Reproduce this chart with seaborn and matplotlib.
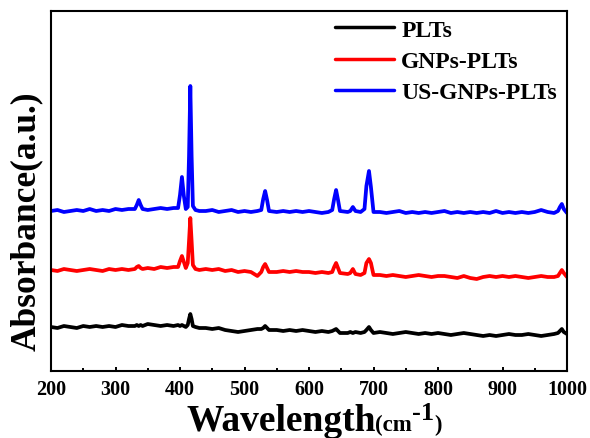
import numpy as np
import pandas as pd
import matplotlib
matplotlib.use("Agg")
import matplotlib.pyplot as plt
from matplotlib.lines import Line2D
import seaborn as sns

# ---------------- data ----------------
wavelength = (
    [200, 210, 220, 230, 240, 250, 260, 270, 280, 290, 300, 310, 320]
    + [330, 333, 336, 339, 342, 350, 360, 370, 380, 390]
    + [397, 400, 403, 406, 409, 412, 414, 416, 418, 420, 424, 430]
    + [440, 450, 460, 470, 480, 490, 500, 510, 520]
    + [526, 529, 532, 535, 538, 550, 560, 570, 580, 590, 600, 610, 620, 630]
    + [636, 639, 642, 645, 648, 660]
    + [664, 668, 672, 680]
    + [686, 689, 693, 696, 700]
    + [710, 720, 730, 740, 750, 760, 770, 780, 790, 800,
       810, 820, 830, 840, 850, 860, 870, 880, 890, 900,
       910, 920, 930, 940, 950, 960, 970]
    + [980, 986, 989, 992, 995, 1000]
)

plts = (
    [44, 43, 45, 44, 43, 45, 44, 45, 44, 45, 44, 46, 45]
    + [45, 46, 45, 46, 45, 47, 46, 45, 46, 45]
    + [46, 45, 46, 45, 44, 46, 52, 57, 52, 45, 44, 43]
    + [43, 42, 43, 41, 40, 39, 40, 41, 42]
    + [42, 43, 45, 43, 41, 41, 40, 41, 40, 41, 40, 39, 40, 39]
    + [40, 41, 42, 40, 38, 38]
    + [39, 38, 39, 38]
    + [39, 41, 44, 41, 38]
    + [39, 38, 37, 38, 39, 38, 37, 38, 37, 38,
       37, 36, 37, 38, 37, 36, 35, 36, 35, 36,
       37, 36, 36, 37, 36, 35, 36]
    + [37, 38, 40, 42, 39, 37]
)

gnps_plts = (
    [101, 100, 102, 101, 100, 101, 102, 101, 100, 102, 101, 102, 101]
    + [102, 104, 105, 103, 102, 103, 102, 104, 103, 104]
    + [104, 110, 115, 109, 103, 108, 130, 153, 130, 106, 102, 101]
    + [102, 101, 102, 100, 101, 99, 100, 99, 95]
    + [99, 104, 107, 103, 99, 99, 100, 99, 100, 99, 99, 98, 99, 98]
    + [99, 104, 108, 103, 98, 97]
    + [98, 102, 97, 96]
    + [98, 108, 112, 108, 96]
    + [96, 95, 96, 95, 94, 95, 96, 95, 94, 95,
       95, 94, 93, 95, 93, 92, 94, 95, 94, 95,
       94, 95, 94, 93, 94, 95, 94]
    + [94, 95, 98, 101, 98, 94]
)

us_gnps_plts = (
    [160, 161, 159, 160, 161, 160, 162, 160, 161, 160, 162, 161, 162]
    + [162, 166, 171, 166, 162, 161, 162, 163, 162, 163]
    + [163, 176, 194, 175, 162, 164, 215, 285, 215, 165, 161, 160]
    + [160, 161, 159, 160, 161, 159, 160, 159, 160]
    + [161, 172, 180, 171, 160, 159, 160, 159, 160, 159, 160, 159, 158, 159]
    + [161, 172, 181, 171, 160, 159]
    + [160, 164, 160, 159]
    + [162, 185, 200, 184, 159]
    + [159, 158, 159, 160, 158, 159, 158, 159, 158, 159,
       160, 158, 159, 158, 159, 158, 159, 158, 160, 158,
       159, 158, 159, 158, 159, 161, 159]
    + [158, 160, 164, 167, 162, 158]
)

samples = ["PLTs", "GNPs-PLTs", "US-GNPs-PLTs"]
colors = ["#000000", "#FF0000", "#0000FF"]
x_ticks = [200, 300, 400, 500, 600, 700, 800, 900, 1000]

# ---------------- build long table ----------------
df = pd.concat([
    pd.DataFrame({"Wavelength": wavelength, "Absorbance": vals, "Sample": name})
    for name, vals in zip(samples, [plts, gnps_plts, us_gnps_plts])
], ignore_index=True)

sns.set_theme(style="ticks")
plt.rcParams["font.family"] = ["Liberation Serif", "DejaVu Serif"]
plt.rcParams["font.weight"] = "bold"
plt.rcParams["mathtext.default"] = "regular"
for key in ["text.color", "axes.labelcolor", "xtick.color", "ytick.color",
            "axes.edgecolor", "xtick.labelcolor", "ytick.labelcolor"]:
    plt.rcParams[key] = "black"

fig = plt.figure(figsize=(5.90, 4.39), dpi=100)
ax = fig.add_axes([51 / 590, 1 - 372 / 439, (567 - 51) / 590, (372 - 12) / 439])

sns.lineplot(data=df, x="Wavelength", y="Absorbance", hue="Sample",
             hue_order=samples, palette=dict(zip(samples, colors)),
             estimator=None, linewidth=2.7, ax=ax, legend=False)

ax.set_xlim(200, 1000)
ax.set_ylim(0, 360)
ax.set_xticks(x_ticks)
ax.set_xticks(np.arange(250, 1000, 100), minor=True)
ax.set_xticklabels([str(t) for t in x_ticks], fontsize=14.5, fontweight="bold",
                   color="black")
ax.tick_params(axis="x", which="major", direction="in", length=3.2, width=1.4,
               pad=5.5, bottom=True, top=False, color="black", labelcolor="black")
ax.tick_params(axis="x", which="minor", direction="in", length=2.4, width=1.4,
               bottom=True, top=False, color="black")
ax.tick_params(axis="y", left=False, right=False, labelleft=False)
for s in ax.spines.values():
    s.set_visible(True)
    s.set_linewidth(1.5)
    s.set_color("black")
ax.set_xlabel("")
ax.set_ylabel("")

# legend
handles = [Line2D([0], [0], color=c, lw=2.5) for c in colors]
leg = fig.legend(handles, samples, loc="upper left",
                 bbox_to_anchor=(335 / 590, 1 - 20 / 439),
                 frameon=False, prop={"family": "Liberation Serif", "weight": "bold", "size": 17},
                 handlelength=2.5, handletextpad=0.3, labelspacing=0.42,
                 borderpad=0, borderaxespad=0, labelcolor="black")

# y label
fig.text(26 / 590, 1 - 221 / 439, "Absorbance(a.u.)", rotation=90,
         ha="center", va="center", fontsize=25.5, fontweight="bold",
         family="Liberation Serif", color="black")

# x label built from pieces (Wavelength(cm^-1))
fig.canvas.draw()
renderer = fig.canvas.get_renderer()
base_y = 1 - 431 / 439
x0 = 186 / 590
pieces = [("Wavelength", 27, 0), ("(cm", 16.5, 0), ("-1", 19, 11), (")", 16.5, 0)]
for txt, size, rise in pieces:
    t = fig.text(x0, base_y + rise / 439, txt, ha="left", va="baseline",
                 fontsize=size, fontweight="bold", family="Liberation Serif",
                 color="black")
    bb = t.get_window_extent(renderer=renderer)
    x0 = bb.x1 / fig.bbox.width

fig.savefig("out.png", dpi=100)
